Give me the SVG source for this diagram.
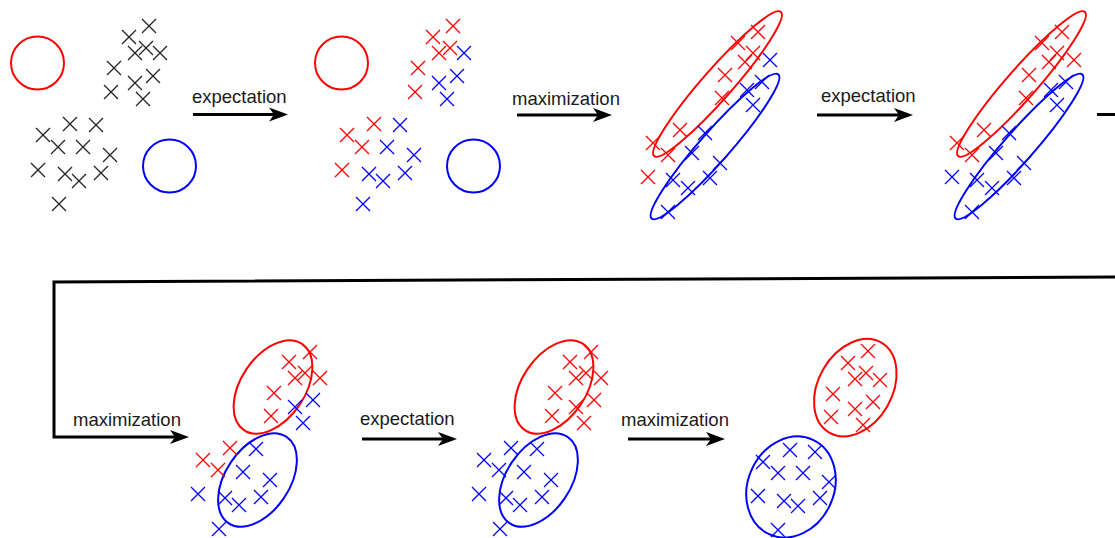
<svg xmlns="http://www.w3.org/2000/svg" xmlns:xlink="http://www.w3.org/1999/xlink" width="1115" height="538" viewBox="0 0 1115 538">
<style>
.k{stroke:#222;stroke-width:1.3;fill:none}
.r{stroke:#f00;stroke-width:1.3;fill:none}
.b{stroke:#00f;stroke-width:1.3;fill:none}
.re{stroke:#f00;stroke-width:2;fill:none}
.be{stroke:#00f;stroke-width:2;fill:none}
.lbl{font-family:"Liberation Sans",Arial,sans-serif;font-size:18.5px;fill:#1a1a1a}
.ln{stroke:#000;stroke-width:3;fill:none}
.hd{fill:#000}
</style>
<defs>
<path id="x" d="M-7,-7L7,7M-7,7L7,-7"/>
</defs>
<rect width="1115" height="538" fill="#fff"/>
<g id="panel1">
<circle class="re" cx="37.5" cy="63" r="26.5"/>
<circle class="be" cx="169.5" cy="166" r="26.5"/>
<g class="k">
<use href="#x" x="149" y="26"/><use href="#x" x="129" y="37"/><use href="#x" x="146" y="48"/><use href="#x" x="135" y="53"/><use href="#x" x="160" y="53"/><use href="#x" x="114" y="68"/><use href="#x" x="153" y="76"/><use href="#x" x="135" y="83"/><use href="#x" x="111" y="92"/><use href="#x" x="143" y="99"/>
<use href="#x" x="70" y="124"/><use href="#x" x="96" y="125"/><use href="#x" x="43" y="135"/><use href="#x" x="58" y="147"/><use href="#x" x="83" y="147"/><use href="#x" x="110" y="155"/><use href="#x" x="38" y="170"/><use href="#x" x="65" y="174"/><use href="#x" x="79" y="181"/><use href="#x" x="101" y="173"/><use href="#x" x="59" y="204"/>
</g>
</g>
<g id="panel2">
<circle class="re" cx="341.5" cy="63" r="26.5"/>
<circle class="be" cx="473.5" cy="166" r="26.5"/>
<g class="r">
<use href="#x" x="453" y="26"/><use href="#x" x="433" y="37"/><use href="#x" x="450" y="48"/><use href="#x" x="439" y="53"/><use href="#x" x="418" y="68"/><use href="#x" x="415" y="92"/>
<use href="#x" x="374" y="124"/><use href="#x" x="347" y="135"/><use href="#x" x="362" y="147"/><use href="#x" x="342" y="170"/>
</g>
<g class="b">
<use href="#x" x="464" y="53"/><use href="#x" x="457" y="76"/><use href="#x" x="439" y="83"/><use href="#x" x="447" y="99"/>
<use href="#x" x="400" y="125"/><use href="#x" x="387" y="147"/><use href="#x" x="414" y="155"/><use href="#x" x="369" y="174"/><use href="#x" x="383" y="181"/><use href="#x" x="405" y="173"/><use href="#x" x="363" y="204"/>
</g>
</g>
<g id="panel3">
<ellipse class="re" cx="717.5" cy="84" rx="96" ry="15" transform="rotate(-48.7 717.5 84)"/>
<ellipse class="be" cx="715" cy="146.5" rx="96" ry="15" transform="rotate(-48.7 715 146.5)"/>
<g class="r">
<use href="#x" x="758" y="32"/><use href="#x" x="738" y="43"/><use href="#x" x="753" y="53"/><use href="#x" x="745" y="62"/><use href="#x" x="725" y="75"/><use href="#x" x="722" y="98"/><use href="#x" x="680" y="130"/><use href="#x" x="653" y="143"/><use href="#x" x="668" y="155"/><use href="#x" x="648" y="177"/>
</g>
<g class="b">
<use href="#x" x="770" y="60"/><use href="#x" x="762" y="82"/><use href="#x" x="747" y="90"/><use href="#x" x="753" y="105"/><use href="#x" x="705" y="133"/><use href="#x" x="692" y="153"/><use href="#x" x="720" y="163"/><use href="#x" x="673" y="180"/><use href="#x" x="710" y="178"/><use href="#x" x="688" y="188"/><use href="#x" x="668" y="212"/>
</g>
</g>
<g id="panel4">
<ellipse class="re" cx="1021.5" cy="84" rx="96" ry="15" transform="rotate(-48.7 1021.5 84)"/>
<ellipse class="be" cx="1019" cy="146.5" rx="96" ry="15" transform="rotate(-48.7 1019 146.5)"/>
<g class="r">
<use href="#x" x="1062" y="32"/><use href="#x" x="1042" y="43"/><use href="#x" x="1057" y="53"/><use href="#x" x="1049" y="62"/><use href="#x" x="1074" y="60"/><use href="#x" x="1029" y="75"/><use href="#x" x="1026" y="98"/><use href="#x" x="984" y="130"/><use href="#x" x="957" y="143"/><use href="#x" x="972" y="155"/>
</g>
<g class="b">
<use href="#x" x="952" y="177"/><use href="#x" x="1066" y="82"/><use href="#x" x="1051" y="90"/><use href="#x" x="1057" y="105"/><use href="#x" x="1009" y="133"/><use href="#x" x="996" y="153"/><use href="#x" x="1024" y="163"/><use href="#x" x="977" y="180"/><use href="#x" x="1014" y="178"/><use href="#x" x="992" y="188"/><use href="#x" x="972" y="212"/>
</g>
</g>
<g id="panel5">
<ellipse class="re" cx="273" cy="387" rx="52" ry="32" transform="rotate(-56 273 387)"/>
<ellipse class="be" cx="257.5" cy="480" rx="52" ry="32" transform="rotate(-56 257.5 480)"/>
<g class="r">
<use href="#x" x="310" y="352"/><use href="#x" x="289" y="362"/><use href="#x" x="305" y="373"/><use href="#x" x="295" y="378"/><use href="#x" x="320" y="378"/><use href="#x" x="274" y="393"/><use href="#x" x="271" y="416"/><use href="#x" x="230" y="448"/><use href="#x" x="203" y="460"/><use href="#x" x="218" y="470"/>
</g>
<g class="b">
<use href="#x" x="313" y="400"/><use href="#x" x="295" y="407"/><use href="#x" x="303" y="423"/><use href="#x" x="256" y="449"/><use href="#x" x="243" y="472"/><use href="#x" x="270" y="480"/><use href="#x" x="198" y="494"/><use href="#x" x="225" y="498"/><use href="#x" x="261" y="497"/><use href="#x" x="239" y="505"/><use href="#x" x="219" y="529"/>
</g>
</g>
<g id="panel6">
<ellipse class="re" cx="554" cy="387" rx="52" ry="32" transform="rotate(-56 554 387)"/>
<ellipse class="be" cx="538.5" cy="480" rx="52" ry="32" transform="rotate(-56 538.5 480)"/>
<g class="r">
<use href="#x" x="591" y="352"/><use href="#x" x="570" y="362"/><use href="#x" x="586" y="373"/><use href="#x" x="576" y="378"/><use href="#x" x="601" y="378"/><use href="#x" x="555" y="393"/><use href="#x" x="552" y="416"/><use href="#x" x="594" y="400"/><use href="#x" x="576" y="407"/><use href="#x" x="584" y="423"/>
</g>
<g class="b">
<use href="#x" x="511" y="448"/><use href="#x" x="484" y="460"/><use href="#x" x="499" y="470"/><use href="#x" x="537" y="449"/><use href="#x" x="524" y="472"/><use href="#x" x="551" y="480"/><use href="#x" x="479" y="494"/><use href="#x" x="506" y="498"/><use href="#x" x="542" y="497"/><use href="#x" x="520" y="505"/><use href="#x" x="500" y="529"/>
</g>
</g>
<g id="panel7">
<ellipse class="re" cx="855.3" cy="387.7" rx="37" ry="52" transform="rotate(30 855.3 387.7)"/>
<ellipse class="be" cx="791" cy="487" rx="43" ry="52" transform="rotate(25 791 487)"/>
<g class="r">
<use href="#x" x="868" y="351"/><use href="#x" x="848" y="363"/><use href="#x" x="866" y="373"/><use href="#x" x="855" y="379"/><use href="#x" x="880" y="380"/><use href="#x" x="833" y="394"/><use href="#x" x="873" y="402"/><use href="#x" x="855" y="409"/><use href="#x" x="831" y="417"/><use href="#x" x="863" y="425"/>
</g>
<g class="b">
<use href="#x" x="790" y="450"/><use href="#x" x="815" y="452"/><use href="#x" x="763" y="462"/><use href="#x" x="778" y="473"/><use href="#x" x="803" y="473"/><use href="#x" x="829" y="482"/><use href="#x" x="758" y="496"/><use href="#x" x="784" y="501"/><use href="#x" x="798" y="506"/><use href="#x" x="820" y="498"/><use href="#x" x="778" y="530"/>
</g>
</g>
<g id="connectors">
<line class="ln" x1="193" y1="114.5" x2="275" y2="114.5"/>
<path class="hd" d="M288,114.5L269,107.5L274,114.5L269,121.5Z"/>
<line class="ln" x1="517" y1="115" x2="599" y2="115"/>
<path class="hd" d="M612,115L593,108L598,115L593,122Z"/>
<line class="ln" x1="817" y1="115" x2="900" y2="115"/>
<path class="hd" d="M913,115L894,108L899,115L894,122Z"/>
<line class="ln" x1="1097" y1="114.5" x2="1115" y2="114.5"/>
<polyline class="ln" points="1115,277 54,282 54,437 176,437"/>
<path class="hd" d="M189,437L170,430L175,437L170,444Z"/>
<line class="ln" x1="362" y1="439" x2="444" y2="439"/>
<path class="hd" d="M457,439L438,432L443,439L438,446Z"/>
<line class="ln" x1="628" y1="439" x2="712" y2="439"/>
<path class="hd" d="M725,439L706,432L711,439L706,446Z"/>
</g>
<g id="labels">
<text class="lbl" x="192" y="103">expectation</text>
<text class="lbl" x="512" y="105">maximization</text>
<text class="lbl" x="821" y="101.5">expectation</text>
<text class="lbl" x="73" y="426">maximization</text>
<text class="lbl" x="360" y="425">expectation</text>
<text class="lbl" x="621" y="426">maximization</text>
</g>
</svg>
